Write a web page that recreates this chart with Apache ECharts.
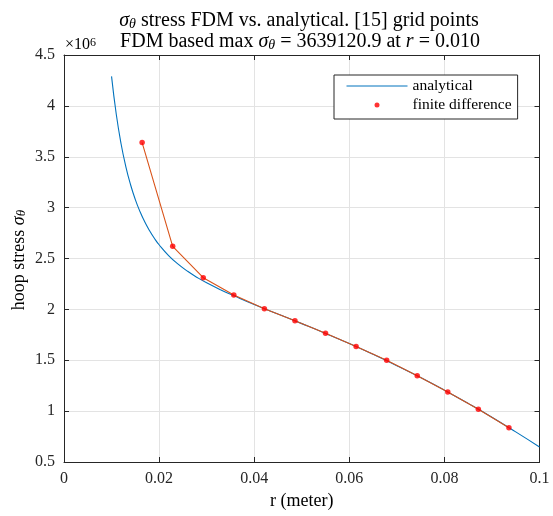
<!DOCTYPE html>
<html>
<head>
<meta charset="utf-8">
<script src="https://cdn.jsdelivr.net/npm/echarts@6/dist/echarts.min.js"></script>
<style>
  html, body { margin: 0; padding: 0; background: #fff; }
  #chart { width: 553px; height: 516px; }
</style>
</head>
<body>
<div id="chart"></div>
<script>
// Hoop stress in the disk: closed-form curve (r in metres, stress in Pa)
const analyticalR = [
  0.010, 0.011, 0.012, 0.013, 0.014, 0.015, 0.016, 0.017, 0.018, 0.019,
  0.020, 0.022, 0.024, 0.026, 0.028, 0.030, 0.033, 0.036, 0.040, 0.045,
  0.050, 0.055, 0.060, 0.065, 0.070, 0.075, 0.080, 0.085, 0.090, 0.095, 0.100
];
const analyticalStress = [
  4290000, 3915000, 3628000, 3404000, 3225000, 3079000, 2959000, 2858000, 2773000, 2699000,
  2635000, 2529000, 2445000, 2374000, 2314000, 2261000, 2191000, 2128000, 2048000, 1954000,
  1860000, 1764000, 1664000, 1558000, 1447000, 1330000, 1206000, 1076000, 940000, 796000, 648000
];

// Finite-difference solution at the interior nodes of a 15-point grid
const fdmR = [
  0.016429, 0.022857, 0.029286, 0.035714, 0.042143, 0.048571, 0.055000,
  0.061429, 0.067857, 0.074286, 0.080714, 0.087143, 0.093571
];
const fdmStress = [
  3639120.9, 2620000, 2311000, 2141000, 2007000, 1888000, 1765000,
  1636000, 1499000, 1348000, 1188000, 1018000, 837000
];

// Axis ticks
const xTicks = { min: 0, max: 0.1, step: 0.02 };
const yTicks = { min: 500000, max: 4500000, step: 500000 };

const SERIF = "'Liberation Serif', 'DejaVu Serif', serif";
const INK = '#262626';

const pairs = (xs, ys) => xs.map((x, i) => [x, ys[i]]);

const chart = echarts.init(document.getElementById('chart'), null, { renderer: 'canvas' });

// text styles for inline math: italic symbol, lowered subscript, upright words
const mathRich = (size) => ({
  m: { fontFamily: SERIF, fontSize: size, fontStyle: 'italic', color: '#000' },
  sub: { fontFamily: SERIF, fontSize: Math.round(size * 0.7), fontStyle: 'italic', color: '#000',
         verticalAlign: 'bottom', lineHeight: 10 },
  t: { fontFamily: SERIF, fontSize: size, color: '#000' }
});

const baseAxis = {
  axisLine: { show: true, onZero: false, lineStyle: { color: INK, width: 1 } },
  axisTick: { show: true, inside: true, length: 5, lineStyle: { color: INK, width: 1 } }
};

chart.setOption({
  animation: false,
  backgroundColor: '#fff',
  grid: { left: 64, right: 13.5, top: 55, bottom: 54, outerBoundsMode: 'none' },
  xAxis: [
    Object.assign({}, baseAxis, {
      type: 'value', position: 'bottom',
      min: xTicks.min, max: xTicks.max, interval: xTicks.step,
      name: 'r (meter)', nameLocation: 'middle', nameGap: 26,
      nameTextStyle: { fontFamily: SERIF, fontSize: 18, color: '#000' },
      axisLabel: { margin: 9, fontFamily: SERIF, fontSize: 16, color: INK,
                   formatter: v => String(+v.toFixed(2)) },
      splitLine: { show: true, lineStyle: { color: '#e3e3e3', width: 1 } }
    }),
    Object.assign({}, baseAxis, {
      type: 'value', position: 'top',
      min: xTicks.min, max: xTicks.max, interval: xTicks.step,
      axisLabel: { show: false }, splitLine: { show: false }
    })
  ],
  yAxis: [
    Object.assign({}, baseAxis, {
      type: 'value', position: 'left',
      min: yTicks.min, max: yTicks.max, interval: yTicks.step,
      axisLabel: { margin: 9, fontFamily: SERIF, fontSize: 16, color: INK,
                   formatter: v => String(+(v / 1e6).toFixed(1)) },
      splitLine: { show: true, lineStyle: { color: '#e3e3e3', width: 1 } }
    }),
    Object.assign({}, baseAxis, {
      type: 'value', position: 'right',
      min: yTicks.min, max: yTicks.max, interval: yTicks.step,
      axisLabel: { show: false }, splitLine: { show: false }
    })
  ],
  legend: {
    data: [
      { name: 'analytical', itemStyle: { opacity: 0 }, lineStyle: { width: 1 } },
      { name: 'finite difference' }
    ],
    orient: 'vertical', left: 334, top: 75,
    backgroundColor: '#fff', borderColor: INK, borderWidth: 1, borderRadius: 0,
    padding: [3, 6, 6, 12], itemGap: 3,
    itemWidth: 61, itemHeight: 5,
    selectedMode: false,
    textStyle: { fontFamily: SERIF, fontSize: 15.5, color: '#000', lineHeight: 16 }
  },
  graphic: [
    {
      type: 'text', z: 10,
      style: {
        x: 299, y: 21, align: 'center', verticalAlign: 'middle',
        text: '{m|σ}{sub|θ}{t| stress FDM vs. analytical. [15] grid points}',
        rich: mathRich(20)
      }
    },
    {
      type: 'text', z: 10,
      style: {
        x: 300, y: 42, align: 'center', verticalAlign: 'middle',
        text: '{t|FDM based max }{m|σ}{sub|θ}{t| = 3639120.9 at }{m|r}{t| = 0.010}',
        rich: mathRich(20)
      }
    },
    {
      // y-axis title, rotated to read bottom-up
      type: 'text', z: 10,
      x: 19, y: 260, rotation: Math.PI / 2,
      style: {
        x: 0, y: 0, align: 'center', verticalAlign: 'middle',
        text: '{t|hoop stress }{m|σ}{sub|θ}',
        rich: mathRich(18)
      }
    },
    {
      // common exponent of the y tick labels
      type: 'text', z: 10,
      style: {
        x: 65, y: 45, align: 'left', verticalAlign: 'middle',
        text: '{a|×10}{sup|6}',
        rich: {
          a: { fontFamily: SERIF, fontSize: 16, color: INK },
          sup: { fontFamily: SERIF, fontSize: 12, color: INK, verticalAlign: 'top', lineHeight: 11 }
        }
      }
    }
  ],
  series: [
    {
      name: 'analytical', type: 'line',
      data: pairs(analyticalR, analyticalStress),
      showSymbol: false, symbol: 'none',
      smooth: 0.5,
      lineStyle: { color: '#0072BD', width: 1.1 },
      itemStyle: { color: '#0072BD' },
      z: 2
    },
    {
      name: 'fdm path', type: 'line',
      data: pairs(fdmR, fdmStress),
      showSymbol: false, symbol: 'none',
      lineStyle: { color: '#D95319', width: 1.1 },
      itemStyle: { color: '#D95319' },
      z: 3
    },
    {
      name: 'finite difference', type: 'scatter',
      data: pairs(fdmR, fdmStress),
      symbol: 'circle', symbolSize: 5.5,
      itemStyle: { color: '#FF0000' },
      z: 4
    }
  ]
});
</script>
</body>
</html>
